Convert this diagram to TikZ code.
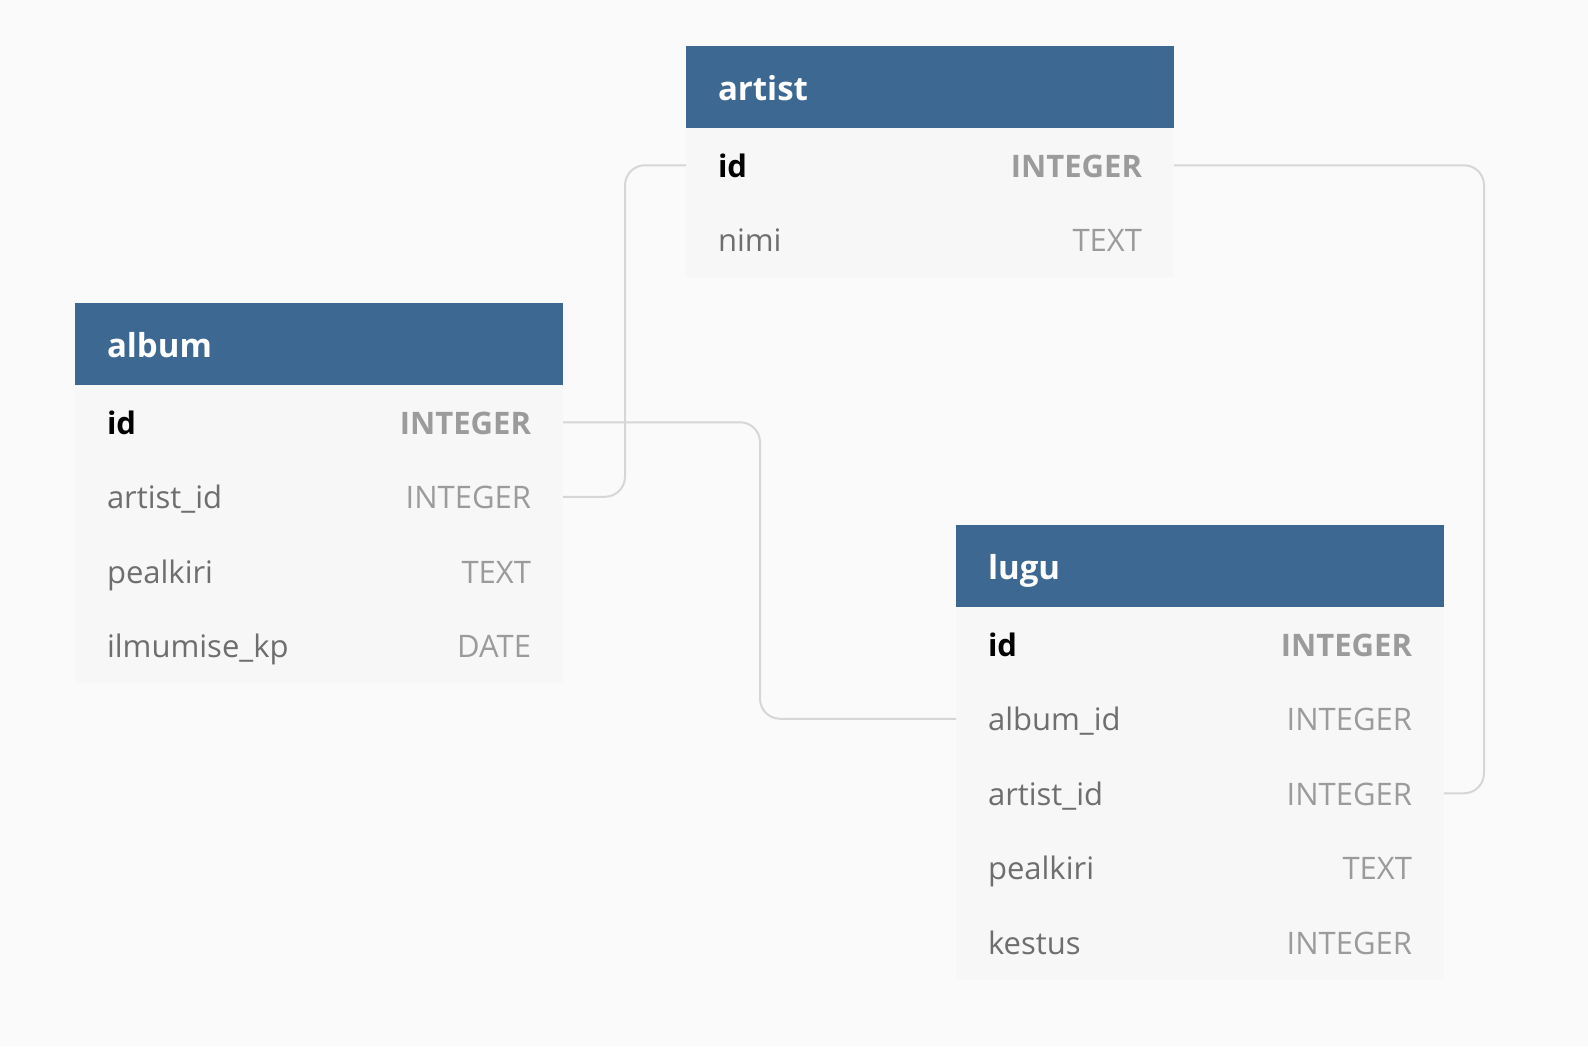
\documentclass[tikz,border=0pt]{standalone}
\usepackage{fontspec}
\setmainfont{Open Sans}
\usetikzlibrary{positioning}
\usepackage{xcolor}
\definecolor{headblue}{HTML}{3D6892}
\definecolor{rowbg}{HTML}{F7F7F7}
\definecolor{pagebg}{HTML}{FAFAFA}
\definecolor{namegray}{HTML}{6E6E6E}
\definecolor{typegray}{HTML}{9B9B9B}
\definecolor{linkgray}{HTML}{D6D6D6}
\newcommand{\fieldrow}[2]{\textcolor{namegray}{#1}\hfill\textcolor{typegray}{#2}}
\newcommand{\keyrow}[2]{\textbf{\textcolor{black}{#1}}\hfill\textbf{\textcolor{typegray}{#2}}}

\begin{document}
\begin{tikzpicture}[x=0.5pt,y=-0.5pt,node distance=0pt]
      \tikzstyle{head}=[fill=headblue,text=white,anchor=north west,outer sep=0pt,minimum height=41pt,text width=212pt,text height=15.5pt,text depth=2pt,inner xsep=16pt,inner ysep=0pt,font=\fontsize{16.5}{19}\selectfont\bfseries]
      \tikzstyle{row}=[fill=rowbg,outer sep=0pt,minimum height=37.25pt,text width=212pt,text height=14pt,text depth=2pt,inner xsep=16pt,inner ysep=0pt,font=\fontsize{15.5}{18}\selectfont]
      \tikzstyle{link}=[draw=linkgray,line width=1pt,rounded corners=10pt]
      \fill[pagebg] (0,0) rectangle (1588,1046);
      \useasboundingbox (0,0) rectangle (1588,1046);
      % artist
      \node[head] (artist) at (686,46) {artist};
      \node[row,below=of artist] (artist-id) {\keyrow{id}{INTEGER}};
      \node[row,below=of artist-id] (artist-nimi) {\fieldrow{nimi}{TEXT}};
      % album
      \node[head] (album) at (75,303) {album};
      \node[row,below=of album] (album-id) {\keyrow{id}{INTEGER}};
      \node[row,below=of album-id] (album-artist) {\fieldrow{artist\_id}{INTEGER}};
      \node[row,below=of album-artist] (album-pealkiri) {\fieldrow{pealkiri}{TEXT}};
      \node[row,below=of album-pealkiri] (album-kp) {\fieldrow{ilmumise\_kp}{DATE}};
      % lugu
      \node[head] (lugu) at (956,525) {lugu};
      \node[row,below=of lugu] (lugu-id) {\keyrow{id}{INTEGER}};
      \node[row,below=of lugu-id] (lugu-album) {\fieldrow{album\_id}{INTEGER}};
      \node[row,below=of lugu-album] (lugu-artist) {\fieldrow{artist\_id}{INTEGER}};
      \node[row,below=of lugu-artist] (lugu-pealkiri) {\fieldrow{pealkiri}{TEXT}};
      \node[row,below=of lugu-pealkiri] (lugu-kestus) {\fieldrow{kestus}{INTEGER}};
      % relations
      \draw[link] (artist-id.east) -- ++(310,0) |- (lugu-artist.east);
      \draw[link] (artist-id.west) -- ++(-61,0) |- (album-artist.east);
      \draw[link] (album-id.east) -- ++(197,0) |- (lugu-album.west);
    \end{tikzpicture}
\end{document}
